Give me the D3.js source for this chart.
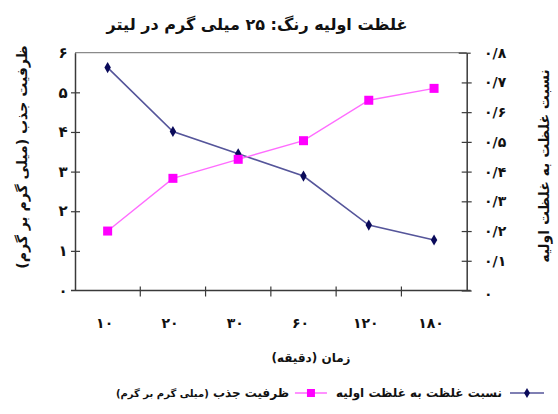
<!DOCTYPE html>
<html>
<head>
<meta charset="utf-8">
<script src="https://cdn.jsdelivr.net/npm/d3@7"></script>
<style>
  html, body { margin: 0; padding: 0; background: #fff; }
  svg text { font-family: "DejaVu Sans", sans-serif; font-weight: bold; fill: #111; }
</style>
</head>
<body>
<svg id="chart" width="558" height="414"></svg>
<script>
// Sampling times (minutes), Persian numerals
const times = ["۱۰", "۲۰", "۳۰", "۶۰", "۱۲۰", "۱۸۰"];
// Ratio of concentration to initial concentration (right axis)
const ratio = [0.75, 0.535, 0.46, 0.385, 0.22, 0.17];
// Adsorption capacity, mg/g (left axis)
const capacity = [1.5, 2.83, 3.31, 3.78, 4.8, 5.1];
const leftTicks = [0, 1, 2, 3, 4, 5, 6];
const leftTickLabels = ["۰", "۱", "۲", "۳", "۴", "۵", "۶"];
const rightTicks = [0, 0.1, 0.2, 0.3, 0.4, 0.5, 0.6, 0.7, 0.8];
const rightTickLabels = ["۰", "۰/۱", "۰/۲", "۰/۳", "۰/۴", "۰/۵", "۰/۶", "۰/۷", "۰/۸"];

const svg = d3.select("#chart");
const L = 75, R = 466.7, T = 52.7, B = 290.5;

const x = d3.scaleBand().domain(times).range([L, R]).padding(0);
const yL = d3.scaleLinear().domain([0, 6]).range([B, T]);
const yR = d3.scaleLinear().domain([0, 0.8]).range([B, T]);

// Title
svg.append("text").attr("x", 257).attr("y", 30).attr("text-anchor", "middle")
  .style("font-size", "16px").attr("direction", "rtl")
  .text("غلظت اولیه رنگ: ۲۵ میلی گرم در لیتر");

// Frame: top border lighter
svg.append("line").attr("x1", L).attr("x2", R).attr("y1", T).attr("y2", T)
  .attr("stroke", "#8a8a8a").attr("stroke-width", 1.3);

const axisColor = "#3a3a3a";
// Left axis
const gL = svg.append("g").attr("transform", `translate(${L},0)`)
  .call(d3.axisLeft(yL).tickValues(leftTicks).tickSize(0).tickFormat((d, i) => leftTickLabels[i]));
gL.select(".domain").attr("stroke", axisColor).attr("stroke-width", 1.5);
gL.selectAll(".tick text").remove();
gL.selectAll(".tick").filter(d => d > 0 && d < 6).append("line")
  .attr("x1", -4).attr("x2", 5).attr("stroke", axisColor).attr("stroke-width", 1.2);
svg.append("g").selectAll("text").data(leftTicks).join("text")
  .attr("x", 63).attr("y", d => yL(d)).attr("dy", "0.35em").attr("text-anchor", "middle")
  .style("font-size", "15px").text((d, i) => leftTickLabels[i]);

// Right axis
const gR = svg.append("g").attr("transform", `translate(${R},0)`)
  .call(d3.axisRight(yR).tickValues(rightTicks).tickSize(0).tickFormat((d, i) => rightTickLabels[i]));
gR.select(".domain").attr("stroke", axisColor).attr("stroke-width", 1.5);
gR.selectAll(".tick text").remove();
gR.selectAll(".tick").filter(d => d < 0.79).append("line")
  .attr("x1", -5).attr("x2", 5).attr("stroke", axisColor).attr("stroke-width", 1.2);
gR.selectAll(".tick").filter(d => d > 0.79).append("line")
  .attr("x1", -8).attr("x2", 4).attr("stroke", axisColor).attr("stroke-width", 1.2);
svg.append("g").selectAll("text").data(rightTicks).join("text")
  .attr("x", 484).attr("y", d => yR(d) + (d === 0 ? 4 : 0)).attr("dy", "0.35em")
  .attr("text-anchor", "start").attr("direction", "ltr")
  .style("font-size", "14px").text((d, i) => rightTickLabels[i]);

// Bottom axis with ticks at category boundaries
svg.append("line").attr("x1", L - 4).attr("x2", R + 4).attr("y1", B).attr("y2", B)
  .attr("stroke", axisColor).attr("stroke-width", 1.5);
svg.append("g").selectAll("line").data(times.slice(1)).join("line")
  .attr("x1", d => x(d)).attr("x2", d => x(d)).attr("y1", B - 4).attr("y2", B + 6)
  .attr("stroke", axisColor).attr("stroke-width", 1.2);
svg.append("g").selectAll("text").data(times).join("text")
  .attr("x", d => x(d) + x.bandwidth() / 2 - 3).attr("y", 328).attr("text-anchor", "middle")
  .attr("direction", "ltr").style("font-size", "14px").text(d => d);

// Axis titles
svg.append("text").attr("x", 311).attr("y", 362).attr("text-anchor", "middle")
  .attr("direction", "rtl").style("font-size", "12px").text("زمان (دقیقه)");
svg.append("text").attr("transform", "translate(27,157) rotate(-90)").attr("text-anchor", "middle")
  .attr("direction", "rtl").style("font-size", "14px").text("ظرفیت جذب (میلی گرم بر گرم)");
svg.append("text").attr("transform", "translate(549,166) rotate(-90)").attr("text-anchor", "middle")
  .attr("direction", "rtl").style("font-size", "14px").text("نسبت غلظت به غلظت اولیه");

const cx = d => x(d) + x.bandwidth() / 2;
const blueLine = "#55559a", blueMark = "#0a0a5a";
const pinkLine = "#ff6cff", pinkMark = "#ff00ff";

// Ratio series
svg.append("path").datum(ratio)
  .attr("d", d3.line().x((d, i) => cx(times[i])).y(d => yR(d)))
  .attr("fill", "none").attr("stroke", blueLine).attr("stroke-width", 1.6);
svg.append("g").selectAll("path").data(ratio).join("path")
  .attr("transform", (d, i) => `translate(${cx(times[i])},${yR(d)})`)
  .attr("d", d3.symbol(d3.symbolDiamond, 36)).attr("fill", blueMark);

// Capacity series
svg.append("path").datum(capacity)
  .attr("d", d3.line().x((d, i) => cx(times[i])).y(d => yL(d)))
  .attr("fill", "none").attr("stroke", pinkLine).attr("stroke-width", 1.4);
svg.append("g").selectAll("rect").data(capacity).join("rect")
  .attr("x", (d, i) => cx(times[i]) - 4.5).attr("y", d => yL(d) - 4.5)
  .attr("width", 9).attr("height", 9).attr("fill", pinkMark);

// Legend, laid out right to left from measured text widths
const ly = 393;
let cursor = 544;
svg.append("line").attr("x1", cursor - 34).attr("x2", cursor).attr("y1", ly).attr("y2", ly)
  .attr("stroke", blueLine).attr("stroke-width", 1.6);
svg.append("path").attr("transform", `translate(${cursor - 17},${ly})`)
  .attr("d", d3.symbol(d3.symbolDiamond, 30)).attr("fill", blueMark);
cursor -= 42;
const bt = svg.append("text").attr("x", cursor).attr("y", ly).attr("dy", "0.35em").attr("text-anchor", "start")
  .attr("direction", "rtl").style("font-size", "12px").text("نسبت غلظت به غلظت اولیه");
cursor -= bt.node().getComputedTextLength() + 9;
svg.append("line").attr("x1", cursor - 32).attr("x2", cursor).attr("y1", ly).attr("y2", ly)
  .attr("stroke", pinkLine).attr("stroke-width", 1.4);
svg.append("rect").attr("x", cursor - 20).attr("y", ly - 4).attr("width", 8).attr("height", 8).attr("fill", pinkMark);
cursor -= 38;
const lt = svg.append("text").attr("x", cursor).attr("y", ly).attr("dy", "0.35em").attr("text-anchor", "start")
  .attr("direction", "rtl").style("font-size", "12px");
lt.append("tspan").text("ظرفیت جذب ");
lt.append("tspan").style("font-size", "10px").text("(میلی گرم بر گرم)");
</script>
</body>
</html>
